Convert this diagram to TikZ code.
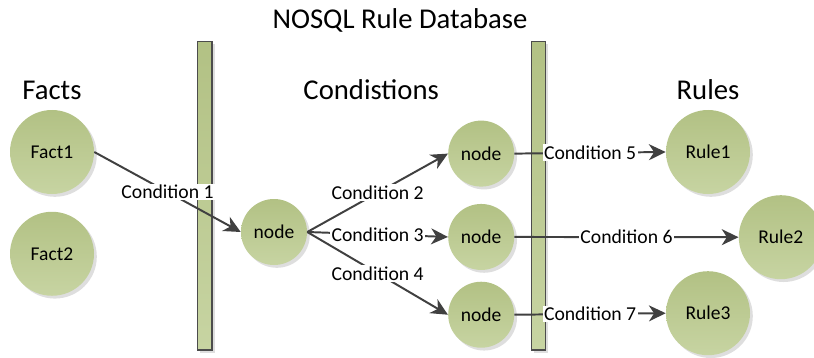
\documentclass[tikz,border=0pt]{standalone}
\usepackage{fontspec}
\setmainfont{Carlito}
\usepackage{xcolor}
\usetikzlibrary{arrows.meta, positioning, shadows}

\definecolor{leaftop}{RGB}{178,193,132}
\definecolor{leafbot}{RGB}{199,212,162}
\definecolor{wire}{RGB}{64,64,64}

\begin{document}
\begin{tikzpicture}[
        fact/.style={circle, minimum size=2.1cm, inner sep=0pt, top color=leaftop, bottom color=leafbot, drop shadow={shadow xshift=2pt, shadow yshift=-2pt, fill=black!13, opacity=1}, font=\fontsize{13.9}{16}\selectfont},
        cond/.style={fact, minimum size=1.65cm},
        bar/.style={rectangle, minimum width=0.36cm, minimum height=7.72cm, inner sep=0pt, draw=black!70, line width=0.8pt, top color=leaftop, bottom color=leafbot, drop shadow={shadow xshift=2pt, shadow yshift=-2pt, fill=black!13, opacity=1}},
        head/.style={inner sep=0pt, font=\fontsize{20.4}{24}\selectfont},
        lbl/.style={fill=white, inner sep=1pt, font=\fontsize{14}{16}\selectfont},
        arrow/.style={-{Stealth[length=4.2mm, width=4mm, inset=1.3mm]}, line width=1.4pt, draw=wire},
    ]
        \useasboundingbox (0,0) rectangle (20.35,-8.95);

        % Headings
        \node[head] (title) at (10.0,-0.5) {NOSQL Rule Database};
        \node[head] (facts) at (1.3,-2.25) {Facts};
        \node[head] (conds) at (9.28,-2.25) {Condistions};
        \node[head] (rules) at (17.7,-2.25) {Rules};

        % Database walls
        \node[bar] (bar1) at (5.12,-4.89) {};
        \node[bar] (bar2) at (13.46,-4.89) {};

        % Facts
        \node[fact] (fact1) at (1.3,-3.8) {Fact1};
        \node[fact, below=0.43cm of fact1] (fact2) {Fact2};

        % Condition nodes
        \node[cond] (nd) at (6.85,-5.8) {node};
        \node[cond] (ndA) at (12.03,-3.84) {node};
        \node[cond, below=0.42cm of ndA] (ndB) {node};
        \node[cond, below=0.28cm of ndB] (ndC) {node};

        % Rules
        \node[fact] (rule1) at (17.7,-3.8) {Rule1};
        \node[fact] (rule2) at (19.52,-5.93) {Rule2};
        \node[fact] (rule3) at (17.7,-7.83) {Rule3};

        % Arrows
        \draw[arrow] (fact1.east) -- node[lbl] {Condition 1} (nd.west);
        \draw[arrow] (nd.east) -- node[lbl] {Condition 2} (ndA.west);
        \draw[arrow] (nd.east) -- node[lbl] {Condition 3} (ndB.west);
        \draw[arrow] (nd.east) -- node[lbl] {Condition 4} (ndC.west);
        \draw[arrow] (ndA.east) -- node[lbl] {Condition 5} (rule1.west);
        \draw[arrow] (ndB.east) -- node[lbl] {Condition 6} (rule2.west);
        \draw[arrow] (ndC.east) -- node[lbl] {Condition 7} (rule3.west);
    \end{tikzpicture}
\end{document}
